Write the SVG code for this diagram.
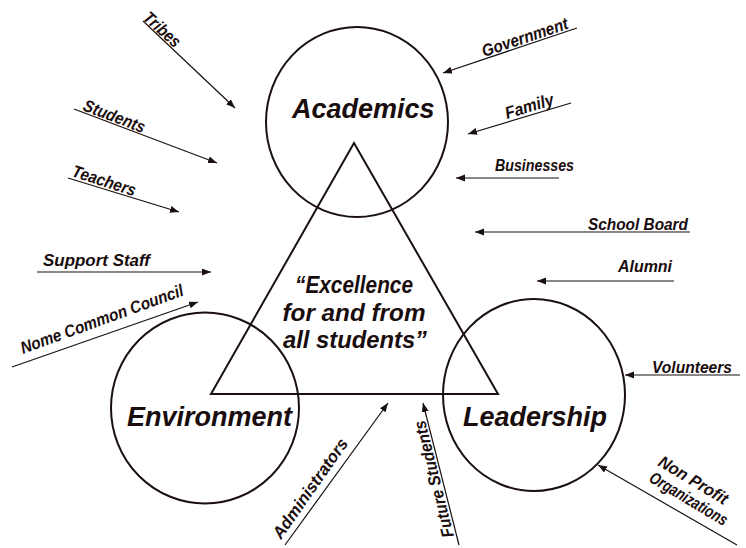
<svg xmlns="http://www.w3.org/2000/svg" width="746" height="548" viewBox="0 0 746 548">
<defs>
<style>
.shape{fill:none;stroke:#1a1010;stroke-width:2}
.conn{fill:none;stroke:#1a1010;stroke-width:1.2}
.node{font-family:"Liberation Sans",Arial,sans-serif;font-style:italic;font-weight:bold;font-size:27px;fill:#1a0d0d}
.quote{font-family:"Liberation Sans",Arial,sans-serif;font-style:italic;font-weight:bold;font-size:23px;fill:#1a0d0d;text-anchor:middle}
.lbl{font-family:"Liberation Sans",Arial,sans-serif;font-style:italic;font-weight:bold;font-size:17px;fill:#1a0d0d}
</style>
<marker id="ah" markerUnits="userSpaceOnUse" markerWidth="10" markerHeight="8" refX="9" refY="3.5" orient="auto">
<path d="M0,0 L9,3.5 L0,7 z" fill="#1a1010"/>
</marker>
</defs>
<rect width="746" height="548" fill="#ffffff"/>

<g id="academics">
<ellipse class="shape" cx="357" cy="122" rx="91" ry="95"/>
<text class="node" x="292" y="118">Academics</text>
</g>
<g id="environment">
<ellipse class="shape" cx="205" cy="408" rx="94" ry="95.5"/>
<text class="node" x="127" y="426">Environment</text>
</g>
<g id="leadership">
<ellipse class="shape" cx="534" cy="395" rx="91" ry="96"/>
<text class="node" x="463" y="426">Leadership</text>
</g>
<g id="triangle">
<polygon class="shape" points="354,143 211,394 498,394"/>
<text class="quote" x="354" y="293" textLength="118" lengthAdjust="spacingAndGlyphs">“Excellence</text>
<text class="quote" x="354" y="321" textLength="143" lengthAdjust="spacingAndGlyphs">for and from</text>
<text class="quote" x="355" y="348" textLength="144" lengthAdjust="spacingAndGlyphs">all students”</text>
</g>

<g id="connectors">
<line class="conn" x1="143" y1="21" x2="235" y2="108" marker-end="url(#ah)"/>
<line class="conn" x1="74" y1="109" x2="217" y2="163" marker-end="url(#ah)"/>
<line class="conn" x1="68" y1="178" x2="179" y2="212" marker-end="url(#ah)"/>
<line class="conn" x1="37" y1="272" x2="211" y2="272" marker-end="url(#ah)"/>
<line class="conn" x1="12" y1="367" x2="198" y2="302" marker-end="url(#ah)"/>
<line class="conn" x1="285" y1="545" x2="388" y2="403" marker-end="url(#ah)"/>
<line class="conn" x1="459" y1="545" x2="423" y2="403" marker-end="url(#ah)"/>
<line class="conn" x1="577" y1="28" x2="443" y2="73" marker-end="url(#ah)"/>
<line class="conn" x1="571" y1="103" x2="468" y2="134" marker-end="url(#ah)"/>
<line class="conn" x1="559" y1="178" x2="456" y2="178" marker-end="url(#ah)"/>
<line class="conn" x1="690" y1="232" x2="475" y2="232" marker-end="url(#ah)"/>
<line class="conn" x1="674" y1="281" x2="537" y2="281" marker-end="url(#ah)"/>
<line class="conn" x1="740" y1="375" x2="625" y2="375" marker-end="url(#ah)"/>
<line class="conn" x1="737" y1="545" x2="598" y2="465" marker-end="url(#ah)"/>
</g>

<g id="tribes"><text class="lbl" transform="translate(142,19) rotate(42)" textLength="44" lengthAdjust="spacingAndGlyphs">Tribes</text></g>
<g id="students"><text class="lbl" transform="translate(82,110) rotate(21)" textLength="65" lengthAdjust="spacingAndGlyphs">Students</text></g>
<g id="teachers"><text class="lbl" transform="translate(71,176) rotate(18)" textLength="66" lengthAdjust="spacingAndGlyphs">Teachers</text></g>
<g id="support-staff"><text class="lbl" x="43" y="266" textLength="107" lengthAdjust="spacingAndGlyphs">Support Staff</text></g>
<g id="nome-common-council"><text class="lbl" transform="translate(23,354) rotate(-20)" textLength="172" lengthAdjust="spacingAndGlyphs">Nome Common Council</text></g>
<g id="administrators"><text class="lbl" transform="translate(281,540) rotate(-55)" textLength="118" lengthAdjust="spacingAndGlyphs">Administrators</text></g>
<g id="future-students"><text class="lbl" transform="translate(454,536) rotate(-104)" textLength="120" lengthAdjust="spacingAndGlyphs">Future Students</text></g>
<g id="government"><text class="lbl" transform="translate(484,57) rotate(-18.5)" textLength="90" lengthAdjust="spacingAndGlyphs">Government</text></g>
<g id="family"><text class="lbl" transform="translate(507,119) rotate(-17)" textLength="50" lengthAdjust="spacingAndGlyphs">Family</text></g>
<g id="businesses"><text class="lbl" x="495" y="171" textLength="79" lengthAdjust="spacingAndGlyphs">Businesses</text></g>
<g id="school-board"><text class="lbl" x="588" y="230" textLength="100" lengthAdjust="spacingAndGlyphs">School Board</text></g>
<g id="alumni"><text class="lbl" x="618" y="272" textLength="54" lengthAdjust="spacingAndGlyphs">Alumni</text></g>
<g id="volunteers"><text class="lbl" x="652" y="373" textLength="80" lengthAdjust="spacingAndGlyphs">Volunteers</text></g>
<g id="non-profit-organizations">
<text class="lbl" transform="translate(657,465) rotate(31)" textLength="78" lengthAdjust="spacingAndGlyphs">Non Profit</text>
<text class="lbl" transform="translate(648,481) rotate(31)" textLength="88" lengthAdjust="spacingAndGlyphs">Organizations</text>
</g>
</svg>
